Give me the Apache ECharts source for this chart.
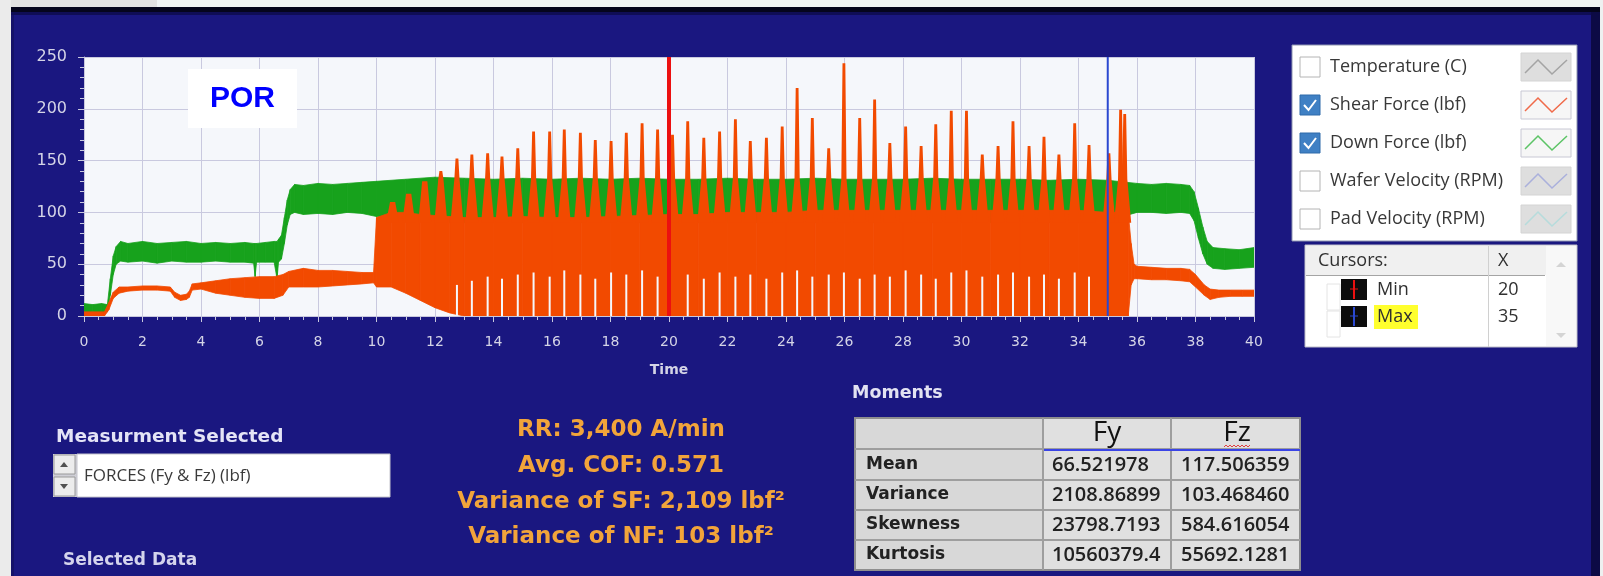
<!DOCTYPE html>
<html>
<head>
<meta charset="utf-8">
<title>POR – Forces</title>
<script src="https://cdn.jsdelivr.net/npm/echarts@6/dist/echarts.min.js"></script>
<style>
  html, body { margin: 0; padding: 0; background: #eef2f2; }
  #chart { width: 1603px; height: 576px; }
</style>
</head>
<body>
<div id="chart"></div>
<script>
// ---- Recorded signals -------------------------------------------------
// Down force (Fz) envelope: [time s, lower lbf, upper lbf]
const downForce = [
  [0, 3, 12], [0.3, 4, 11], [0.6, 3, 12], [0.8, 4, 11], [0.9, 20, 36],
  [1.0, 40, 58], [1.1, 50, 67], [1.25, 53, 72], [1.5, 52, 70], [2.0, 53, 72],
  [2.5, 51, 70], [3.0, 53, 71], [3.5, 52, 72], [4.0, 52, 70], [4.5, 53, 71],
  [5.0, 52, 70], [5.5, 52, 71], [5.8, 51, 70], [5.85, 38, 70], [5.9, 52, 70],
  [6.2, 52, 71], [6.5, 52, 72], [6.6, 36, 72], [6.65, 52, 74], [6.75, 55, 78],
  [6.85, 70, 95], [6.95, 88, 112], [7.05, 98, 122], [7.2, 100, 127], [7.5, 98, 126],
  [8.0, 99, 128], [8.5, 98, 127], [9.0, 100, 128], [9.5, 99, 129], [10.0, 96, 130],
  [11, 92, 132], [12, 90, 134], [13, 90, 133], [14, 90, 132], [15, 90, 133],
  [16, 90, 132], [17, 90, 133], [18, 90, 132], [19, 90, 133], [20, 90, 132],
  [21, 90, 132], [22, 90, 133], [23, 90, 132], [24, 90, 132], [25, 90, 133],
  [26, 90, 132], [27, 90, 132], [28, 90, 132], [29, 90, 133], [30, 90, 132],
  [31, 90, 132], [32, 90, 132], [33, 90, 131], [34, 90, 132], [35, 92, 131],
  [36, 100, 128], [36.5, 100, 127], [37, 99, 128], [37.5, 100, 127], [37.8, 99, 126],
  [37.95, 92, 120], [38.1, 75, 104], [38.25, 60, 86], [38.4, 50, 72], [38.6, 46, 66],
  [39, 45, 65], [39.5, 46, 64], [40, 47, 66]
];

// Shear force (Fy) envelope: [time s, lower lbf, upper lbf]
const shearForce = [
  [0, 0, 4], [0.7, 0, 4], [0.85, 6, 13], [1.0, 17, 23], [1.2, 22, 28],
  [1.5, 24, 28], [2.0, 25, 29], [2.5, 25, 29], [2.95, 24, 28], [3.1, 18, 23],
  [3.3, 15, 20], [3.5, 16, 21], [3.6, 18, 24], [3.7, 25, 31], [4.0, 26, 32],
  [4.5, 22, 34], [5.0, 20, 36], [5.5, 18, 37], [6.0, 17, 38], [6.5, 17, 38],
  [6.8, 20, 40], [7.0, 28, 43], [7.5, 28, 46], [8.0, 28, 44], [8.5, 29, 44],
  [9.0, 30, 43], [9.5, 31, 42], [9.9, 32, 42], [10.0, 28, 95], [10.5, 28, 100],
  [11.0, 22, 100], [11.5, 15, 98], [12.0, 8, 97], [12.5, 3, 96], [13, 0, 95],
  [14, 0, 95], [15, 0, 96], [16, 0, 95], [17, 0, 95], [18, 0, 96],
  [19, 0, 97], [20, 0, 98], [21, 0, 98], [22, 0, 100], [23, 0, 100],
  [24, 0, 100], [25, 0, 102], [26, 0, 102], [27, 0, 102], [28, 0, 102],
  [29, 0, 102], [30, 0, 102], [31, 0, 102], [32, 0, 102], [33, 0, 102],
  [34, 0, 102], [35, 0, 100], [35.7, 0, 100], [35.8, 30, 70], [35.9, 36, 50],
  [36.0, 36, 48], [36.5, 35, 47], [37, 35, 46], [37.5, 34, 46], [37.8, 33, 45],
  [38.0, 28, 40], [38.3, 20, 30], [38.5, 16, 26], [38.8, 18, 25], [39.2, 19, 25],
  [39.6, 19, 25], [40, 19, 25]
];

// Shear-force spike apexes: [time s, lbf]
const shearPeaks = [
  [10.55, 110], [11.1, 118], [11.65, 130], [12.2, 140], [12.75, 152],
  [13.26, 156], [13.8, 157], [14.29, 154], [14.83, 162], [15.37, 178],
  [15.92, 178], [16.42, 180], [16.97, 177], [17.48, 170], [18.02, 169],
  [18.54, 177], [19.08, 186], [19.61, 180], [20.12, 175], [20.64, 188],
  [21.19, 172], [21.73, 178], [22.27, 190], [22.78, 169], [23.33, 172],
  [23.87, 183], [24.38, 220], [24.9, 191], [25.46, 162], [25.98, 244],
  [26.52, 191], [27.03, 209], [27.55, 167], [28.09, 183], [28.62, 164],
  [29.12, 185], [29.65, 198], [30.17, 198], [30.71, 156], [31.25, 164],
  [31.76, 188], [32.31, 164], [32.82, 173], [33.33, 156], [33.87, 186],
  [34.36, 165], [35.04, 157], [35.44, 199], [35.58, 195]
];

// Brief dropouts at the foot of the shear trace: [time s, lbf reached]
const shearDips = [
  [12.75, 30], [13.26, 34], [13.8, 38], [14.29, 36], [14.83, 40], [15.37, 42],
  [15.92, 38], [16.42, 44], [16.97, 40], [17.48, 36], [18.02, 42], [18.54, 40],
  [19.08, 44], [19.61, 38], [20.64, 40], [21.19, 36], [21.73, 42], [22.27, 38],
  [22.78, 40], [23.33, 36], [23.87, 42], [24.38, 44], [24.9, 38], [25.46, 40],
  [25.98, 42], [26.52, 36], [27.03, 40], [27.55, 38], [28.09, 44], [28.62, 40],
  [29.12, 36], [29.65, 42], [30.17, 44], [30.71, 38], [31.25, 40], [31.76, 42],
  [32.31, 38], [32.82, 40], [33.33, 36], [33.87, 42], [34.36, 38]
];

const timeRange = [0, 40];
const forceRange = [0, 250];

// Cursors
const cursorNames = ['Min', 'Max'];
const cursorX = [20, 35];

// Channel selector
const legendNames = ['Temperature (C)', 'Shear Force (lbf)', 'Down Force (lbf)', 'Wafer Velocity (RPM)', 'Pad Velocity (RPM)'];
const legendChecked = [false, true, true, false, false];

// Statistics for the selected window
const momentRows = ['Mean', 'Variance', 'Skewness', 'Kurtosis'];
const momentCols = ['Fy', 'Fz'];
const fyMoments = ['66.521978', '2108.86899', '23798.7193', '10560379.4'];
const fzMoments = ['117.506359', '103.468460', '584.616054', '55692.1281'];

const summaryLines = ['RR: 3,400 A/min', 'Avg. COF: 0.571', 'Variance of SF: 2,109 lbf\u00b2', 'Variance of NF: 103 lbf\u00b2'];
const measurement = 'FORCES (Fy & Fz) (lbf)';
const chartTag = 'POR';

// ---- Styling ----------------------------------------------------------
const NAVY = '#1a1780';
const PLOT_BG = '#f5f7fb';
const GREEN = '#17a21c';
const ORANGE = '#f24a00';
const CURSOR_COLORS = ['#ec1010', '#2a48d0'];
const CURSOR_WIDTHS = [4, 2];
const SWATCH_COLORS = ['#a4a4a4', '#f06a4a', '#5cc466', '#aab0dc', '#b6dcdc'];
const AXIS_TEXT = '#d4d4e6';
const UI_FONT = '"Open Sans", "Noto Sans", sans-serif';
const BOLD_FONT = '"DejaVu Sans", sans-serif';
const SPIKE_KNEE = 132;   // value where a spike narrows to its stem
const SPIKE_FOOT = 90;    // value where a spike meets the band

// ---- Overlay widgets (frame, channel box, cursor table, stats) -------
const G = [];
function rect(x, y, w, h, style, z) {
  G.push({ type: 'rect', shape: { x: x, y: y, width: w, height: h }, style: style, z: z || 1, silent: true });
}
function line(x1, y1, x2, y2, stroke, lw, z) {
  G.push({ type: 'line', shape: { x1: x1, y1: y1, x2: x2, y2: y2 }, style: { stroke: stroke, lineWidth: lw || 1 }, z: z || 2, silent: true });
}
function poly(points, style, z) {
  G.push({ type: 'polyline', shape: { points: points }, style: style, z: z || 3, silent: true });
}
function polygon(points, style, z) {
  G.push({ type: 'polygon', shape: { points: points }, style: style, z: z || 3, silent: true });
}
function text(x, y, str, o, z) {
  G.push({
    type: 'text', x: x, y: y, z: z || 4, silent: true,
    style: {
      text: str, fill: o.fill, fontSize: o.size, fontFamily: o.family, fontWeight: o.weight || 'normal',
      align: o.align || 'left', verticalAlign: 'middle', textAlign: o.align || 'left', textVerticalAlign: 'middle'
    }
  });
}

// window frame
rect(0, 0, 157, 7, { fill: '#e2e2e2' });
rect(157, 0, 1446, 7, { fill: '#f1f5f5' });
rect(0, 0, 11, 576, { fill: '#ebebeb' });
rect(1600, 0, 3, 576, { fill: '#eef0f0' });
rect(11, 7, 1589, 5, { fill: '#05051c' });
rect(11, 12, 1589, 3, { fill: '#0f0d55' });
rect(1591, 12, 9, 564, { fill: '#0c0a45' });
rect(11, 15, 3, 561, { fill: '#15126a' });

// chart tag
rect(188, 69, 109, 59, { fill: '#ffffff' }, 100);
text(242.5, 99, chartTag, { fill: '#0000ff', size: 30, family: '"Liberation Sans", Arial, sans-serif', weight: 'bold', align: 'center' }, 101);

// channel selector box
rect(1292, 45, 285, 196, { fill: '#ffffff', stroke: '#8f96b0', lineWidth: 1 });
legendNames.forEach(function (name, i) {
  const cy = 67 + i * 38;
  if (legendChecked[i]) {
    rect(1300, cy - 10, 20, 20, { fill: '#3f80c4', stroke: '#2f6aaa', lineWidth: 1 }, 2);
    poly([[1304, cy], [1308.5, cy + 5], [1316, cy - 5]], { stroke: '#ffffff', lineWidth: 2, fill: null }, 3);
  } else {
    rect(1300, cy - 10, 20, 20, { fill: '#ffffff', stroke: '#b4b4b4', lineWidth: 1 }, 2);
  }
  text(1330, cy, name, { fill: '#383838', size: 18, family: UI_FONT });
  rect(1521, cy - 14, 50, 28, { fill: legendChecked[i] ? '#f6f6f6' : '#dedede', stroke: legendChecked[i] ? '#c8c8d4' : '#d4d4d4', lineWidth: 1 }, 2);
  poly([[1525, cy + 6], [1538, cy - 7], [1552, cy + 7], [1567, cy - 7]], { stroke: SWATCH_COLORS[i], lineWidth: 1.5, fill: null }, 3);
});

// cursor table
rect(1305, 245, 272, 102, { fill: '#ffffff', stroke: '#bdbdc8', lineWidth: 1 });
rect(1306, 246, 240, 29, { fill: '#f0f0f0' }, 2);
line(1306, 275.5, 1545, 275.5, '#a4a4a4', 1, 3);
line(1488.5, 246, 1488.5, 347, '#d0d0d0', 1, 3);
rect(1546, 246, 30, 100, { fill: '#f8f8f8' }, 2);
polygon([[1556, 267], [1566, 267], [1561, 262]], { fill: '#d4d4d4' });
polygon([[1556, 333], [1566, 333], [1561, 338]], { fill: '#d4d4d4' });
text(1318, 261, 'Cursors:', { fill: '#303030', size: 18, family: UI_FONT });
text(1498, 261, 'X', { fill: '#303030', size: 18, family: UI_FONT });
cursorNames.forEach(function (name, i) {
  const cy = 290 + i * 27;
  rect(1327, cy - 6, 13, 26, { fill: 'none', stroke: '#e4e4e4', lineWidth: 1 }, 2);
  rect(1341, cy - 11, 26, 21, { fill: '#0c0c0c' }, 3);
  line(1354, cy - 10, 1354, cy + 9, CURSOR_COLORS[i], 2, 4);
  line(1350, cy - 1, 1358, cy - 1, CURSOR_COLORS[i], 1, 4);
  if (i === 1) rect(1374, cy - 12, 44, 24, { fill: '#ffff2e' }, 3);
  text(1377, cy, name, { fill: '#303030', size: 18, family: UI_FONT }, 5);
  text(1498, cy, String(cursorX[i]), { fill: '#303030', size: 18, family: UI_FONT }, 5);
});

// measurement selector
text(56, 437, 'Measurment Selected', { fill: '#e4e4f6', size: 18.5, family: BOLD_FONT, weight: 'bold' });
rect(53, 454, 24, 43, { fill: '#cfcfd6' });
rect(54, 455, 21, 19, { fill: '#ececec', stroke: '#9a9a9a', lineWidth: 1 }, 2);
rect(54, 477, 21, 19, { fill: '#ececec', stroke: '#9a9a9a', lineWidth: 1 }, 2);
polygon([[60, 467], [68, 467], [64, 462]], { fill: '#505050' });
polygon([[60, 484], [68, 484], [64, 489]], { fill: '#505050' });
rect(77, 454, 313, 43, { fill: '#ffffff', stroke: '#c4c4cc', lineWidth: 1 });
text(84, 476, measurement, { fill: '#3a3a3a', size: 17, family: UI_FONT });
text(63, 561, 'Selected Data', { fill: '#d4d4ec', size: 17, family: BOLD_FONT, weight: 'bold' });

// run summary
summaryLines.forEach(function (s, i) {
  text(621, 430 + i * 35.8, s, { fill: '#f2a43a', size: 23, family: BOLD_FONT, weight: 'bold', align: 'center' });
});

// moments table
text(852, 393, 'Moments', { fill: '#e2e2f2', size: 17.5, family: BOLD_FONT, weight: 'bold' });
rect(855, 418, 445, 152, { fill: '#e0e0e0', stroke: '#8e8e8e', lineWidth: 2 });
rect(856, 419, 187, 150, { fill: '#d8d8d8' }, 2);
[449, 480, 510, 540].forEach(function (y) { line(855, y, 1300, y, '#9e9e9e', 2, 3); });
[1043, 1171].forEach(function (x) { line(x, 418, x, 570, '#9e9e9e', 2, 3); });
line(1044, 450, 1300, 450, '#3a44e6', 2, 4);
poly([[1224, 447], [1226, 445], [1228, 447], [1230, 445], [1232, 447], [1234, 445], [1236, 447], [1238, 445], [1240, 447], [1242, 445], [1244, 447], [1246, 445], [1248, 447], [1250, 445]], { stroke: '#e04040', lineWidth: 1, fill: null }, 5);
text(1107, 433, momentCols[0], { fill: '#111111', size: 28, family: UI_FONT, align: 'center' });
text(1237, 433, momentCols[1], { fill: '#111111', size: 28, family: UI_FONT, align: 'center' });
momentRows.forEach(function (r, i) {
  const cy = 465 + i * 30;
  text(866, cy, r, { fill: '#222222', size: 17, family: BOLD_FONT, weight: 'bold' });
  text(1052, cy, fyMoments[i], { fill: '#222222', size: 20, family: UI_FONT, weight: 600 });
  text(1181, cy, fzMoments[i], { fill: '#222222', size: 20, family: UI_FONT, weight: 600 });
});

// ---- Series -----------------------------------------------------------
// A min/max envelope drawn as one quad per sample interval.
function bandSeries(rows, color, z) {
  return {
    type: 'custom', silent: true, z: z, clip: true,
    encode: { x: 0, y: [1, 2] },
    data: rows,
    renderItem: function (params, api) {
      const i = params.dataIndex;
      if (i >= rows.length - 1) return { type: 'group', children: [] };
      const a = rows[i], b = rows[i + 1];
      return {
        type: 'polygon',
        shape: { points: [
          api.coord([a[0], a[1]]), api.coord([a[0], a[2]]),
          api.coord([b[0], b[2]]), api.coord([b[0], b[1]])
        ] },
        style: { fill: color, stroke: color, lineWidth: 0.8 }
      };
    }
  };
}

const spikeSeries = {
  type: 'custom', silent: true, z: 3, clip: true,
  encode: { x: 0, y: 1 },
  data: shearPeaks,
  renderItem: function (params, api) {
    const t = api.value(0), peak = api.value(1);
    const top = api.coord([t, peak]);
    const knee = api.coord([t, Math.min(peak, SPIKE_KNEE)]);
    const foot = api.coord([t, SPIKE_FOOT]);
    return {
      type: 'polygon',
      shape: { points: [
        [top[0] - 1.4, top[1]], [top[0] + 1.4, top[1]],
        [knee[0] + 2.6, knee[1]], [foot[0] + 6.5, foot[1]],
        [foot[0] - 6.5, foot[1]], [knee[0] - 2.6, knee[1]]
      ] },
      style: { fill: ORANGE }
    };
  }
};

const dipSeries = {
  type: 'custom', silent: true, z: 4, clip: true,
  encode: { x: 0, y: 1 },
  data: shearDips,
  renderItem: function (params, api) {
    const t = api.value(0);
    const top = api.coord([t, api.value(1)]);
    const base = api.coord([t, 0]);
    return {
      type: 'rect',
      shape: { x: top[0] - 1, y: top[1], width: 2, height: base[1] - top[1] },
      style: { fill: PLOT_BG }
    };
  }
};

const cursorSeries = cursorX.map(function (x, i) {
  return {
    type: 'line', symbol: 'none', silent: true, z: 6,
    lineStyle: { color: CURSOR_COLORS[i], width: CURSOR_WIDTHS[i] },
    data: [[x, forceRange[0]], [x, forceRange[1]]]
  };
});

const axisColor = '#c8c8de';

const option = {
  backgroundColor: NAVY,
  animation: false,
  grid: { left: 84, top: 57, width: 1170, height: 259, show: true, backgroundColor: PLOT_BG, borderWidth: 0 },
  xAxis: {
    type: 'value', min: timeRange[0], max: timeRange[1], interval: 2,
    name: 'Time', nameLocation: 'middle', nameGap: 47,
    nameTextStyle: { color: AXIS_TEXT, fontSize: 14, fontWeight: 'bold', fontFamily: BOLD_FONT },
    axisLine: { show: true, lineStyle: { color: axisColor, width: 1 } },
    axisTick: { show: true, length: 6, lineStyle: { color: axisColor } },
    minorTick: { show: true, splitNumber: 4, length: 4, lineStyle: { color: axisColor } },
    axisLabel: { color: AXIS_TEXT, fontSize: 14, margin: 19, fontFamily: BOLD_FONT },
    splitLine: { show: true, lineStyle: { color: '#c9c9df', width: 1 } }
  },
  yAxis: {
    type: 'value', min: forceRange[0], max: forceRange[1], interval: 50,
    axisLine: { show: true, lineStyle: { color: axisColor, width: 1 } },
    axisTick: { show: true, length: 6, lineStyle: { color: axisColor } },
    minorTick: { show: true, splitNumber: 5, length: 4, lineStyle: { color: axisColor } },
    axisLabel: { color: AXIS_TEXT, fontSize: 16, margin: 17, fontFamily: BOLD_FONT },
    splitLine: { show: true, lineStyle: { color: '#c9c9df', width: 1 } }
  },
  series: [
    bandSeries(downForce, GREEN, 2),
    bandSeries(shearForce, ORANGE, 3),
    spikeSeries,
    dipSeries
  ].concat(cursorSeries),
  graphic: { elements: G }
};

const chart = echarts.init(document.getElementById('chart'));
chart.setOption(option);
</script>
</body>
</html>
